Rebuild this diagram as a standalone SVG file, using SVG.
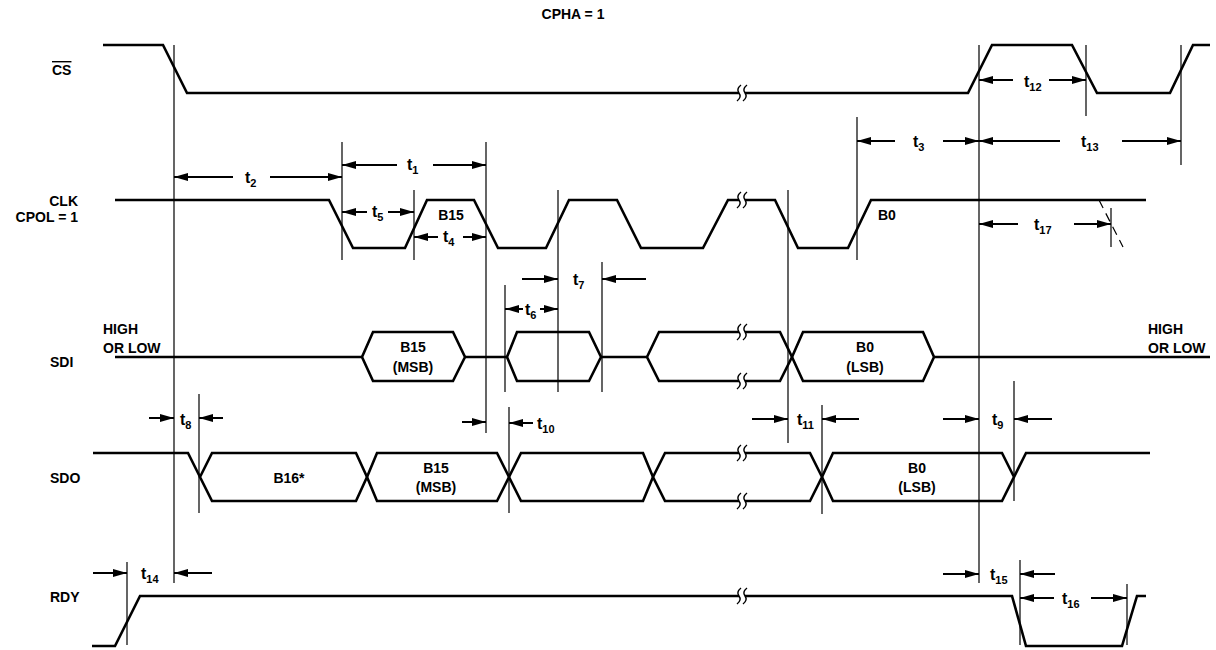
<svg xmlns="http://www.w3.org/2000/svg" width="1216" height="650" viewBox="0 0 1216 650">
<style>
.sig{fill:none;stroke:#000;stroke-width:2.6;stroke-linejoin:miter}
.ref{fill:none;stroke:#000;stroke-width:1.2}
.arr{fill:none;stroke:#000;stroke-width:2;marker-end:url(#ah)}
.lbl{font-family:"Liberation Sans",Arial,sans-serif;font-weight:bold;font-size:14px;fill:#000}
.t{font-family:"Liberation Sans",Arial,sans-serif;font-weight:bold;font-size:16px;fill:#000}
.s{font-size:11px}
.d{font-family:"Liberation Sans",Arial,sans-serif;font-weight:bold;font-size:14px;fill:#000;text-anchor:middle}
</style>
<defs>
<marker id="ah" markerUnits="userSpaceOnUse" viewBox="0 0 14 8" refX="14" refY="4" markerWidth="14" markerHeight="8" orient="auto">
<path d="M0,0 L14,4 L0,8 z" fill="#000"/>
</marker>
<g id="brk">
<rect x="-3" y="-3" width="6" height="6" fill="#fff"/>
<path d="M-1,-8 Q-6,-4 -3,0 Q0,4 -5,8 M5,-8 Q0,-4 3,0 Q6,4 1,8" fill="none" stroke="#000" stroke-width="1.4"/>
</g>
</defs>
<rect width="1216" height="650" fill="#fff"/>

<text class="lbl" x="573" y="19" text-anchor="middle" font-size="11">CPHA = 1</text>

<g id="labels">
<text class="lbl" x="52" y="75" text-decoration="overline">CS</text>
<text class="lbl" x="78" y="206" text-anchor="end">CLK</text>
<text class="lbl" x="78" y="222" text-anchor="end">CPOL = 1</text>
<text class="lbl" x="50" y="367">SDI</text>
<text class="lbl" x="50" y="483">SDO</text>
<text class="lbl" x="50" y="602">RDY</text>
<text class="lbl" x="103" y="334" font-size="15">HIGH</text>
<text class="lbl" x="103" y="353" font-size="15">OR LOW</text>
<text class="lbl" x="1148" y="334" font-size="15">HIGH</text>
<text class="lbl" x="1148" y="353" font-size="15">OR LOW</text>
</g>

<g id="reflines">
<path class="ref" d="M174,45 V583 M342,142 V260 M486,142 V433 M414,190 V260 M558,190 V392 M602,262 V392 M505,285 V392 M788,190 V443 M857,117 V260 M979,45 V583 M1086,45 V116 M1181,45 V165 M1111,208 V247 M199,394 V513 M509,407 V513 M822,405 V514 M1014,381 V501 M127,562 V645 M1020,560 V645 M1127,584 V645"/>
<path class="ref" d="M1099,200 L1123,247" stroke-dasharray="9,6"/>
</g>

<g id="cs">
<path class="sig" d="M103,45 H163 L187,93 H968 L992,45 H1072 L1097,93 H1170 L1193,45 H1210"/>
<use href="#brk" x="742" y="93"/>
</g>

<g id="clk">
<path class="sig" d="M115,200 H329 L353,248 H405 L427,200 H474 L498,248 H546 L569,200 H617 L641,248 H703 L728,200 H775 L798,248 H848 L871,200 H1146"/>
<use href="#brk" x="742" y="200"/>
<text class="d" x="451" y="220">B15</text>
<text class="lbl" x="878" y="220">B0</text>
</g>

<g id="sdi">
<path class="sig" d="M115,357 H362 M465,357 H507 M601,357 H647 M934,357 H1210"/>
<polygon class="sig" points="362,357 373,332 453,332 465,357 453,381 373,381"/>
<polygon class="sig" points="507,357 517,332 589,332 601,357 589,381 517,381"/>
<polygon class="sig" points="647,357 659,332 780,332 792,357 780,381 659,381"/>
<polygon class="sig" points="792,357 803,332 923,332 934,357 923,381 803,381"/>
<use href="#brk" x="742" y="332"/>
<use href="#brk" x="742" y="381"/>
<text class="d" x="413" y="352">B15</text>
<text class="d" x="413" y="372">(MSB)</text>
<text class="d" x="865" y="352">B0</text>
<text class="d" x="865" y="372">(LSB)</text>
</g>

<g id="sdo">
<path class="sig" d="M93,453 H188 L200,477"/>
<polygon class="sig" points="200,477 212,453 356,453 367,477 356,501 212,501"/>
<polygon class="sig" points="367,477 377,453 497,453 509,477 497,501 377,501"/>
<polygon class="sig" points="509,477 521,453 643,453 653,477 643,501 521,501"/>
<polygon class="sig" points="653,477 665,453 810,453 822,477 810,501 665,501"/>
<path class="sig" d="M822,477 L833,453 H1002 L1014,477 M822,477 L833,501 H1002 L1026,453 H1150"/>
<use href="#brk" x="742" y="453"/>
<use href="#brk" x="742" y="501"/>
<text class="d" x="289" y="483">B16*</text>
<text class="d" x="436" y="473">B15</text>
<text class="d" x="436" y="492">(MSB)</text>
<text class="d" x="917" y="473">B0</text>
<text class="d" x="917" y="492">(LSB)</text>
</g>

<g id="rdy">
<path class="sig" d="M92,646 H115 L140,596 H1012 L1026,646 H1122 L1137,596 H1146"/>
<use href="#brk" x="742" y="596"/>
</g>

<g id="connectors">
<path class="arr" d="M233,177 H174"/><path class="arr" d="M270,177 H342"/>
<path class="arr" d="M397,165 H342"/><path class="arr" d="M433,165 H486"/>
<path class="arr" d="M367,212 H342"/><path class="arr" d="M388,212 H414"/>
<path class="arr" d="M438,237 H414"/><path class="arr" d="M463,237 H486"/>
<path class="arr" d="M522,279 H558"/><path class="arr" d="M646,279 H602"/>
<path class="arr" d="M523,309 H505"/><path class="arr" d="M540,309 H558"/>
<path class="arr" d="M462,422 H486"/><path class="arr" d="M533,423 H509"/>
<path class="arr" d="M752,419 H788"/><path class="arr" d="M859,419 H822"/>
<path class="arr" d="M943,419 H979"/><path class="arr" d="M1052,419 H1014"/>
<path class="arr" d="M149,418 H174"/><path class="arr" d="M223,418 H199"/>
<path class="arr" d="M895,141 H857"/><path class="arr" d="M943,141 H979"/>
<path class="arr" d="M1060,141 H979"/><path class="arr" d="M1122,141 H1181"/>
<path class="arr" d="M1013,80 H979"/><path class="arr" d="M1049,80 H1086"/>
<path class="arr" d="M1018,224 H979"/><path class="arr" d="M1074,224 H1111"/>
<path class="arr" d="M93,573 H127"/><path class="arr" d="M212,573 H174"/>
<path class="arr" d="M943,574 H979"/><path class="arr" d="M1055,574 H1020"/>
<path class="arr" d="M1054,598 H1020"/><path class="arr" d="M1091,598 H1127"/>
</g>

<g id="timing-labels">
<text class="t" x="245" y="183">t<tspan class="s" dy="4">2</tspan></text>
<text class="t" x="407" y="170">t<tspan class="s" dy="4">1</tspan></text>
<text class="t" x="372" y="217">t<tspan class="s" dy="4">5</tspan></text>
<text class="t" x="443" y="242">t<tspan class="s" dy="4">4</tspan></text>
<text class="t" x="573" y="285">t<tspan class="s" dy="4">7</tspan></text>
<text class="t" x="525" y="315">t<tspan class="s" dy="4">6</tspan></text>
<text class="t" x="537" y="429">t<tspan class="s" dy="4">10</tspan></text>
<text class="t" x="797" y="425">t<tspan class="s" dy="4">11</tspan></text>
<text class="t" x="992" y="425">t<tspan class="s" dy="4">9</tspan></text>
<text class="t" x="180" y="425">t<tspan class="s" dy="4">8</tspan></text>
<text class="t" x="913" y="147">t<tspan class="s" dy="4">3</tspan></text>
<text class="t" x="1081" y="147">t<tspan class="s" dy="4">13</tspan></text>
<text class="t" x="1024" y="87">t<tspan class="s" dy="4">12</tspan></text>
<text class="t" x="1034" y="230">t<tspan class="s" dy="4">17</tspan></text>
<text class="t" x="141" y="579">t<tspan class="s" dy="4">14</tspan></text>
<text class="t" x="990" y="580">t<tspan class="s" dy="4">15</tspan></text>
<text class="t" x="1062" y="604">t<tspan class="s" dy="4">16</tspan></text>
</g>
</svg>
